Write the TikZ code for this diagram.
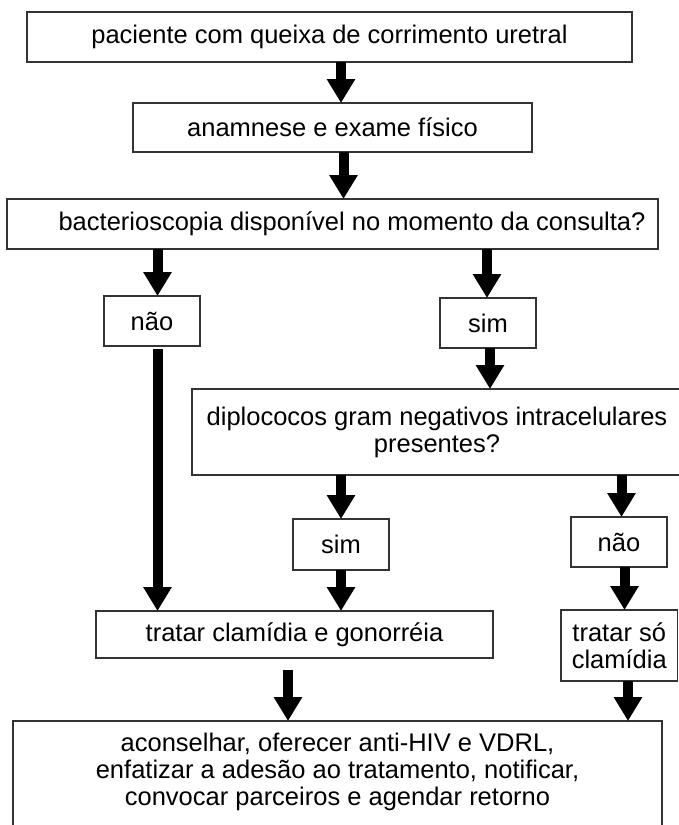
\documentclass[tikz,border=0pt]{standalone}
\usepackage{fontspec}
\setmainfont{Liberation Sans}
\usetikzlibrary{arrows.meta}
\begin{document}
\begin{tikzpicture}[x=1pt,y=-1pt,
  box/.style={draw=black!80,line width=1.1pt,inner sep=0pt,outer sep=0pt,align=center,
    font=\fontsize{25.5}{27}\selectfont},
  txt/.style={inner sep=0pt,align=center,font=\fontsize{25.5}{27}\selectfont},
  bigarrow/.style={line width=10pt,-{Triangle[length=24pt,width=27pt]}}]
\useasboundingbox (0,0) rectangle (679,825);
% boxes
\node[box,minimum width=605pt,minimum height=50pt] (b1) at (329.5,37) {paciente com queixa de corrimento uretral};
\node[box,minimum width=399pt,minimum height=49pt] (b2) at (332.5,127.5) {anamnese e exame físico};
\node[box,minimum width=651pt,minimum height=50pt] (b3) at (332.5,224) {};
\node[txt] (b3t) at (352,224) {bacterioscopia disponível no momento da consulta?};
\node[box,minimum width=96pt,minimum height=50pt] (n1) at (152,321) {não};
\node[box,minimum width=96pt,minimum height=50pt] (s1) at (488,323) {sim};
\node[box,minimum width=490pt,minimum height=86pt] (b4) at (437,432) {diplococos gram negativos intracelulares\\presentes?};
\node[box,minimum width=96pt,minimum height=51pt] (s2) at (341,544.5) {sim};
\node[box,minimum width=96pt,minimum height=50pt] (n2) at (619,542) {não};
\node[box,minimum width=397pt,minimum height=47pt] (b5) at (294.5,634.5) {tratar clamídia e gonorréia};
\node[box,minimum width=116.5pt,minimum height=71pt] (b6) at (619.25,645.5) {tratar só\\clamídia};
\node[box,minimum width=649pt,minimum height=107pt] (b7) at (337.5,774.5) {};
\node[txt] (b7t) at (337.5,772) {aconselhar, oferecer anti-HIV e VDRL,\\enfatizar a adesão ao tratamento, notificar,\\convocar parceiros e agendar retorno};
% arrow columns
\coordinate (c1) at (341,0);
\coordinate (c2) at (343.5,0);
\coordinate (c3) at (157.5,0);
\coordinate (c4) at (487,0);
\coordinate (c5) at (490,0);
\coordinate (c6) at (341,0);
\coordinate (c7) at (621.5,0);
\coordinate (c8) at (624.5,0);
\coordinate (c9) at (288,0);
\coordinate (c10) at (628,0);
% arrows
\draw[bigarrow] (b1.south -| c1) -- (b2.north -| c1);
\draw[bigarrow] (b2.south -| c2) -- (b3.north -| c2);
\draw[bigarrow] (b3.south -| c3) -- (n1.north -| c3);
\draw[bigarrow] (b3.south -| c4) -- (s1.north -| c4);
\draw[bigarrow] (s1.south -| c5) -- (b4.north -| c5);
\draw[bigarrow] (b4.south -| c6) -- (s2.north -| c6);
\draw[bigarrow] (b4.south -| c7) -- (n2.north -| c7);
\draw[bigarrow,shorten <=3pt] (n1.south -| c3) -- (b5.north -| c3);
\draw[bigarrow] (s2.south -| c6) -- (b5.north -| c6);
\draw[bigarrow] (n2.south -| c8) -- (b6.north -| c8);
\draw[bigarrow,shorten <=12pt] (b5.south -| c9) -- (b7.north -| c9);
\draw[bigarrow] (b6.south -| c10) -- (b7.north -| c10);
\end{tikzpicture}
\end{document}
